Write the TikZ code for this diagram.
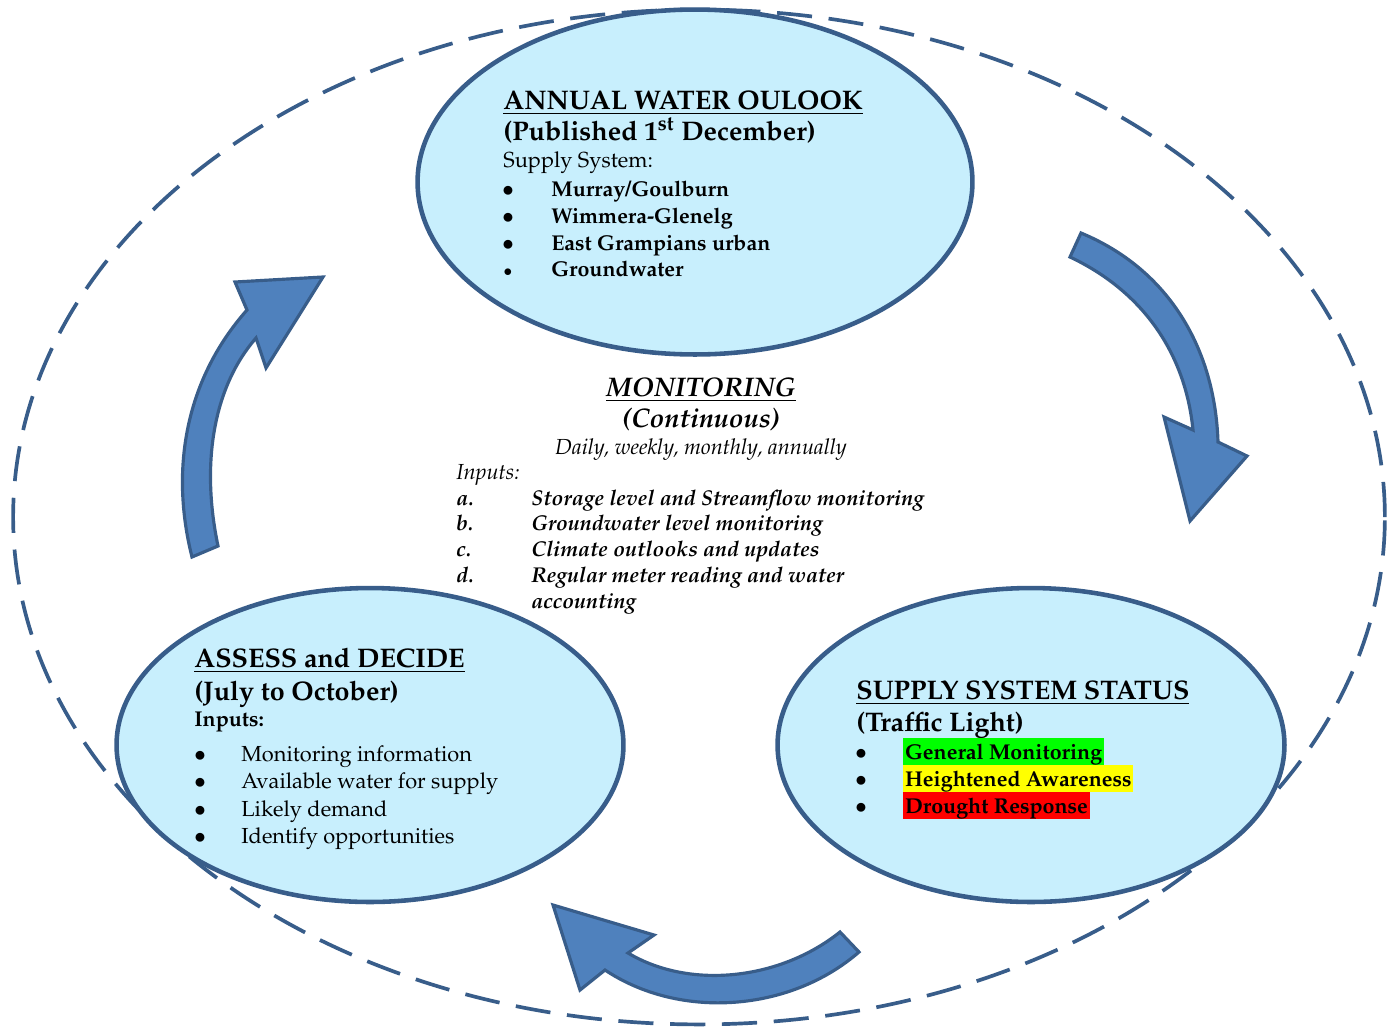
\documentclass[tikz,border=0pt]{standalone}
\usepackage[T1]{fontenc}
\usepackage{mathpazo}
\usepackage{tikz}
\usetikzlibrary{shapes.geometric}

\definecolor{rimblue}{RGB}{56,93,138}
\definecolor{palecyan}{RGB}{200,239,253}
\definecolor{arrowblue}{RGB}{79,129,189}
\definecolor{hlgreen}{RGB}{0,255,0}
\definecolor{hlyellow}{RGB}{255,255,0}
\definecolor{hlred}{RGB}{255,0,0}

\tikzset{
  stage/.style={ellipse,draw=rimblue,line width=2.6pt,fill=palecyan,inner sep=0pt},
  turn/.style={draw=rimblue,line width=1.8pt,fill=arrowblue,line join=miter},
  txt/.style={anchor=base west,inner sep=0pt},
  head/.style={txt,font=\fontsize{15.3}{18}\selectfont\bfseries},
  body/.style={txt,font=\fontsize{12.4}{15}\selectfont},
  bbody/.style={txt,font=\fontsize{12.2}{15}\selectfont\bfseries},
  ibody/.style={txt,font=\fontsize{12.2}{15}\selectfont\bfseries\itshape},
  dot/.style={anchor=base,inner sep=0pt,font=\fontsize{12.5}{15}\selectfont},
  hilite/.style={bbody,inner xsep=1pt,text height=11.9pt,text depth=3.4pt}
}

\begin{document}
\begin{tikzpicture}[x=0.02cm,y=-0.02cm]
  \useasboundingbox (0,0) rectangle (1395,1028);

  % outer cycle
  \node[ellipse,draw=rimblue,line width=2.1pt,dash pattern=on 20pt off 9.5pt,
        minimum width=27.44cm,minimum height=20.3cm] (loop) at (699,517) {};

  % the three stages
  \node[stage,minimum width=11.1cm,minimum height=6.9cm] (outlook) at (695,182) {};
  \node[stage,minimum width=10.14cm,minimum height=6.28cm] (assess) at (370,745) {};
  \node[stage,minimum width=10.14cm,minimum height=6.28cm] (status) at (1031,745) {};

  % curved arrows
  \draw[turn] (1081,233) .. controls (1170,270) and (1215,350) .. (1218,442)
    -- (1247,456) -- (1190,521) -- (1164,417) -- (1193,430)
    .. controls (1185,350) and (1140,290) .. (1070,257) -- cycle;
  \draw[turn] (840,932) .. controls (780,980) and (690,990) .. (628,953)
    -- (654,935) -- (553,905) -- (580,990) -- (605,970)
    .. controls (680,1020) and (790,1012) .. (859,952) -- cycle;
  \draw[turn] (192,557) .. controls (170,470) and (185,380) .. (247,310)
    -- (235,282) -- (323,277) -- (266,368) -- (256,338)
    .. controls (215,385) and (200,460) .. (218,546) -- cycle;

  % annual water outlook
  \node[head] (o1) at (503,109) {\underline{ANNUAL WATER OULOOK}};
  \node[head] (o2) at (503,140) {(Published 1\textsuperscript{st} December)};
  \node[body] (o3) at (503,167) {Supply System:};
  \node[dot] (ob1) at (508,196) {$\bullet$};
  \node[dot] (ob2) at (508,223) {$\bullet$};
  \node[dot] (ob3) at (508,250) {$\bullet$};
  \node[dot,scale=0.75] (ob4) at (508,276) {$\bullet$};
  \node[bbody] (o4) at (551,196) {Murray/Goulburn};
  \node[bbody] (o5) at (551,223) {Wimmera-Glenelg};
  \node[bbody] (o6) at (551,250) {East Grampians urban};
  \node[bbody] (o7) at (551,276) {Groundwater};

  % monitoring
  \node[anchor=base,inner sep=0pt,font=\fontsize{15.3}{18}\selectfont\bfseries\itshape] (m1) at (701,396) {\underline{MONITORING}};
  \node[anchor=base,inner sep=0pt,font=\fontsize{15.3}{18}\selectfont\bfseries\itshape] (m2) at (701,427) {(Continuous)};
  \node[anchor=base,inner sep=0pt,font=\fontsize{12.4}{15}\selectfont\itshape] (m3) at (701,454) {Daily, weekly, monthly, annually};
  \node[body,font=\fontsize{12.4}{15}\selectfont\itshape] (m4) at (456,479) {Inputs:};
  \node[ibody] (ma) at (456,505) {a.};
  \node[ibody] (mb) at (456,530) {b.};
  \node[ibody] (mc) at (456,556) {c.};
  \node[ibody] (md) at (456,582) {d.};
  \node[ibody] (m5) at (531,505) {Storage level and Streamflow monitoring};
  \node[ibody] (m6) at (531,530) {Groundwater level monitoring};
  \node[ibody] (m7) at (531,556) {Climate outlooks and updates};
  \node[ibody] (m8) at (531,582) {Regular meter reading and water};
  \node[ibody] (m9) at (531,608) {accounting};

  % assess and decide
  \node[head] (a1) at (194,667) {\underline{ASSESS and DECIDE}};
  \node[head] (a2) at (194,700) {(July to October)};
  \node[bbody] (a3) at (194,726) {Inputs:};
  \node[dot] (ab1) at (200,761) {$\bullet$};
  \node[dot] (ab2) at (200,788) {$\bullet$};
  \node[dot] (ab3) at (200,816) {$\bullet$};
  \node[dot] (ab4) at (200,843) {$\bullet$};
  \node[body] (a4) at (241,761) {Monitoring information};
  \node[body] (a5) at (241,788) {Available water for supply};
  \node[body] (a6) at (241,816) {Likely demand};
  \node[body] (a7) at (241,843) {Identify opportunities};

  % supply system status
  \node[head] (s1) at (856,699) {\underline{SUPPLY SYSTEM STATUS}};
  \node[head] (s2) at (856,731) {(Traffic Light)};
  \node[dot] (sb1) at (861,759) {$\bullet$};
  \node[dot] (sb2) at (861,786) {$\bullet$};
  \node[dot] (sb3) at (861,813) {$\bullet$};
  \node[hilite,fill=hlgreen] (s3) at (903,759) {General Monitoring};
  \node[hilite,fill=hlyellow] (s4) at (903,786) {Heightened Awareness};
  \node[hilite,fill=hlred] (s5) at (903,813) {Drought Response};
\end{tikzpicture}
\end{document}
